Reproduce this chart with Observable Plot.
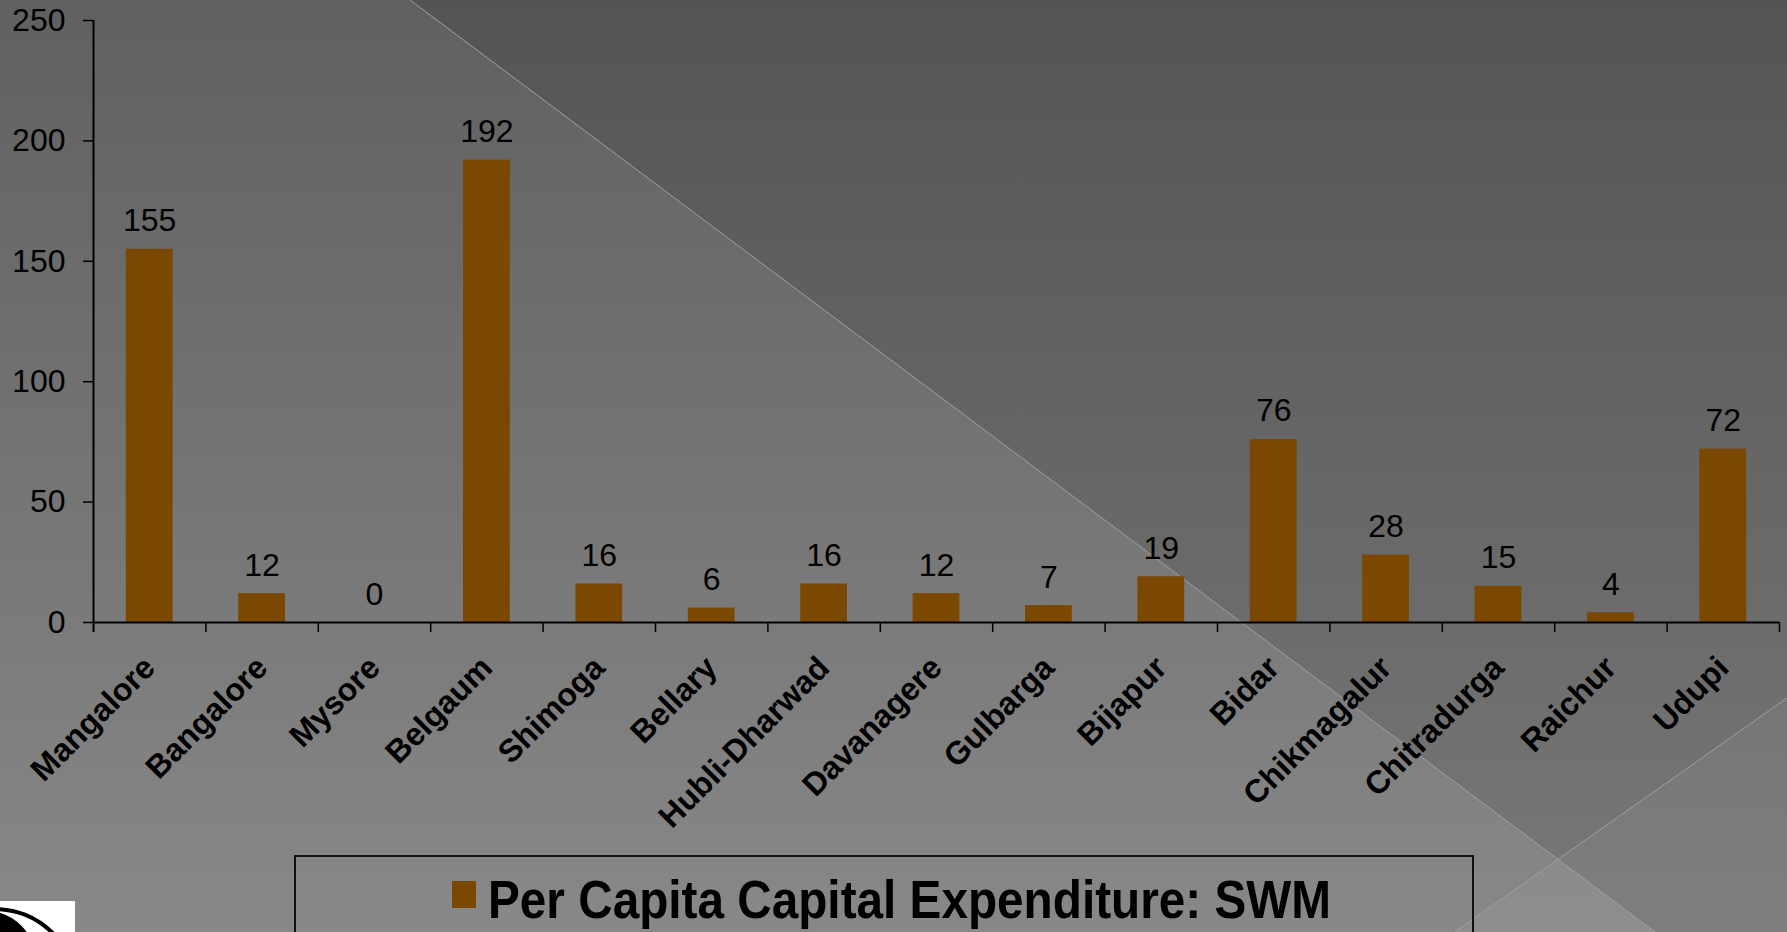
<!DOCTYPE html>
<html>
<head>
<meta charset="utf-8">
<script src="https://cdn.jsdelivr.net/npm/d3@7"></script>
<script src="https://cdn.jsdelivr.net/npm/@observablehq/plot@0.6"></script>
<style>
  html, body { margin: 0; padding: 0; }
  body { width: 1787px; height: 932px; overflow: hidden; position: relative; font-family: "Liberation Sans", Arial, sans-serif; }
  .layer { position: absolute; left: 0; top: 0; width: 1787px; height: 932px; }
  #bgB { background: linear-gradient(#545454, #787878); }
  #bgA { background: linear-gradient(#606060, #888888); clip-path: polygon(0 0, 410px 0, 1655px 932px, 0 932px); }
  #bgC { background: rgba(255,255,255,0.05); clip-path: polygon(1787px 698px, 1787px 932px, 1455px 932px); }
  #chart { position: absolute; left: 0; top: 0; }
  #legend { position: absolute; left: 294px; top: 855px; width: 1180px; height: 120px; border: 2px solid #111; box-sizing: border-box; }
  #legend .sw { position: absolute; left: 156px; top: 24px; width: 24px; height: 27px; background: #7a4800; }
  #legend .lbl { position: absolute; left: 192px; top: 16px; font-family: "Liberation Sans", Arial, sans-serif; font-weight: bold; font-size: 53px; line-height: 1; color: #000; white-space: nowrap; transform-origin: 0 0; }
  #logo { position: absolute; left: 0; top: 901px; }
</style>
</head>
<body>
<div class="layer" id="bgB"></div>
<div class="layer" id="bgA"></div>
<div class="layer" id="bgC"></div>
<svg class="layer" width="1787" height="932">
  <line x1="410" y1="0" x2="1655" y2="932" stroke="#a0a0a0" stroke-width="1"/>
  <line x1="1787" y1="698" x2="1455" y2="932" stroke="#a0a0a0" stroke-width="1"/>
</svg>
<div id="chart"></div>
<div id="legend"><div class="sw"></div><div class="lbl" id="lbl"></div></div>
<svg id="logo" width="75" height="31">
  <rect x="0" y="0" width="75" height="31" fill="#fff"/>
  <circle cx="-5" cy="89" r="81" fill="none" stroke="#000" stroke-width="4"/>
  <circle cx="-14" cy="60" r="50" fill="#000"/>
</svg>
<script>
const cities = ["Mangalore", "Bangalore", "Mysore", "Belgaum", "Shimoga", "Bellary", "Hubli-Dharwad", "Davanagere", "Gulbarga", "Bijapur", "Bidar", "Chikmagalur", "Chitradurga", "Raichur", "Udupi"];
const values = [155, 12, 0, 192, 16, 6, 16, 12, 7, 19, 76, 28, 15, 4, 72];
const yTicks = [0, 50, 100, 150, 200, 250];
const seriesName = "Per Capita Capital Expenditure: SWM";

const data = cities.map((c, i) => ({city: c, value: values[i]}));

const W = 1787, H = 850, mL = 93, mR = 8, mT = 20, mB = 228;
const pIn = 0.584, pOut = pIn / 2;
const step = (W - mL - mR) / (cities.length - pIn + 2 * pOut);
const last = cities[cities.length - 1];

const chart = Plot.plot({
  width: W,
  height: H,
  marginLeft: mL,
  marginRight: mR,
  marginTop: mT,
  marginBottom: mB,
  style: {background: "transparent", color: "#000", fontFamily: "'Liberation Sans', Arial, sans-serif", overflow: "visible"},
  x: {domain: cities, paddingInner: pIn, paddingOuter: pOut, round: false},
  y: {domain: [0, 250]},
  marks: [
    Plot.barY(data, {x: "city", y: "value", fill: "#7a4800"}),
    Plot.axisY(yTicks, {tickSize: 10, tickPadding: 18, fontSize: 32, label: null, stroke: "#000", strokeWidth: 1.5}),
    Plot.axisX({tickSize: 0, tickRotate: -45, tickPadding: 40, fontSize: 32, fontWeight: "bold", label: null}),
    Plot.ruleY([0], {stroke: "#000", strokeWidth: 2}),
    Plot.ruleX([cities[0]], {x: d => d, y1: 250, y2: 0, insetBottom: -10, dx: -step / 2, stroke: "#000", strokeWidth: 2}),
    Plot.ruleX(cities.slice(1), {x: d => d, y1: 0, y2: 0, insetBottom: -10, dx: -step / 2, stroke: "#000", strokeWidth: 1.5}),
    Plot.ruleX([last], {x: d => d, y1: 0, y2: 0, insetBottom: -10, dx: step / 2, stroke: "#000", strokeWidth: 1.5}),
    Plot.text(data, {x: "city", y: "value", text: d => String(d.value), lineAnchor: "bottom", dy: -18, fontSize: 32, fill: "#000"})
  ]
});
document.getElementById("chart").appendChild(chart);

// legend label, horizontally condensed to the narrow face width of the original
const lbl = document.getElementById("lbl");
lbl.textContent = seriesName;
const ctx = document.createElement("canvas").getContext("2d");
ctx.font = "bold 53px 'Liberation Sans'";
const natural = ctx.measureText(seriesName).width;
lbl.style.transform = `scaleX(${843 / natural})`;
</script>
</body>
</html>
